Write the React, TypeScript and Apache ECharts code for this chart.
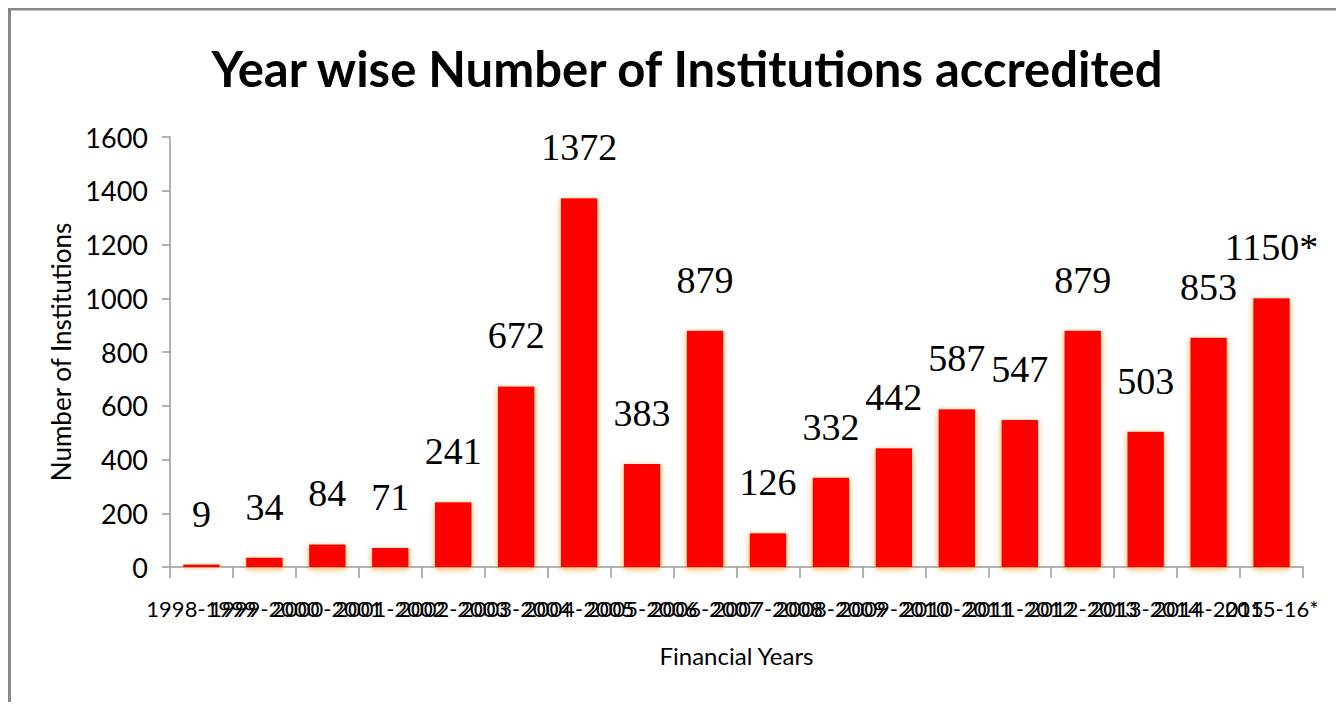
import React, { useEffect, useRef } from "react";
import * as echarts from "echarts";

const categories = [
  "1998-1999", "1999-2000", "2000-2001", "2001-2002", "2002-2003", "2003-2004",
  "2004-2005", "2005-2006", "2006-2007", "2007-2008", "2008-2009", "2009-2010",
  "2010-2011", "2011-2012", "2012-2013", "2013-2014", "2014-2015", "2015-16*",
];
const values = [9, 34, 84, 71, 241, 672, 1372, 383, 879, 126, 332, 442, 587, 547, 879, 503, 853, 1000];
const valueLabels = [
  "9", "34", "84", "71", "241", "672", "1372", "383", "879", "126", "332", "442",
  "587", "547", "879", "503", "853", "1150*",
];
const yTicks = { min: 0, max: 1600, interval: 200 };

const TITLE = "Year wise Number of Institutions accredited";
const X_NAME = "Financial Years";
const Y_NAME = "Number of Institutions";

const SANS = 'Lato, "Open Sans", sans-serif';
const SERIF = '"Liberation Serif", "DejaVu Serif", serif';

export default function App() {
  const ref = useRef<HTMLDivElement>(null);
  useEffect(() => {
    if (!ref.current) return;
    const chart = echarts.init(ref.current, undefined, { renderer: "svg" });
    chart.setOption({
      animation: false,
      backgroundColor: "#ffffff",
      title: {
        text: TITLE,
        left: 674,
        textAlign: "center",
        top: 30,
        textStyle: { fontFamily: SANS, fontWeight: "bold", fontSize: 49, color: "#000" },
      },
      graphic: [
        { type: "line", shape: { x1: 0, y1: 1, x2: 1328, y2: 1 }, style: { stroke: "#888", lineWidth: 3 } },
        { type: "line", shape: { x1: 1.5, y1: 0, x2: 1.5, y2: 694 }, style: { stroke: "#888", lineWidth: 3 } },
      ],
      grid: { left: 162, right: 33, top: 129, bottom: 135 },
      xAxis: {
        type: "category",
        data: categories,
        name: X_NAME,
        nameLocation: "middle",
        nameGap: 76,
        nameTextStyle: { fontFamily: SANS, fontSize: 24, color: "#000" },
        axisLine: { lineStyle: { color: "#9a9a9a", width: 1.5 } },
        axisTick: { show: true, alignWithLabel: false, length: 11, lineStyle: { color: "#9a9a9a", width: 1.5 } },
        axisLabel: {
          interval: 0,
          margin: 30,
          fontFamily: SANS,
          fontSize: 22,
          color: "#000",
          hideOverlap: false,
        },
      },
      yAxis: {
        type: "value",
        min: yTicks.min,
        max: yTicks.max,
        interval: yTicks.interval,
        name: Y_NAME,
        nameLocation: "middle",
        nameGap: 92,
        nameTextStyle: { fontFamily: SANS, fontSize: 26, color: "#000" },
        splitLine: { show: false },
        axisLine: { show: true, lineStyle: { color: "#9a9a9a", width: 1.5 } },
        axisTick: { show: true, length: 8, lineStyle: { color: "#9a9a9a", width: 1.5 } },
        axisLabel: {
          margin: 22,
          fontFamily: SANS,
          fontSize: 27,
          color: "#000",
          formatter: (v: number) => String(v),
        },
      },
      series: [
        {
          type: "bar",
          data: values,
          barWidth: "58%",
          itemStyle: {
            color: "#ff0000",
            shadowBlur: 6,
            shadowColor: "rgba(240,130,20,0.7)",
            shadowOffsetY: 2,
          },
          label: {
            show: true,
            position: "top",
            distance: 32,
            fontFamily: SERIF,
            fontSize: 38,
            color: "#000",
            formatter: (p: any) => valueLabels[p.dataIndex],
          },
        },
      ],
    });
    return () => chart.dispose();
  }, []);
  return <div ref={ref} style={{ width: 1328, height: 694 }} />;
}
